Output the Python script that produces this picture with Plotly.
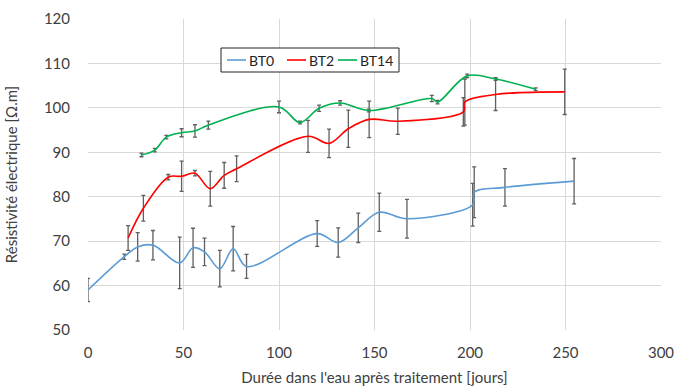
import plotly.graph_objects as go

# ---- data ----
bt0_x = [0, 19, 26, 34, 48, 55, 61, 69, 76, 83, 120, 131, 141.5, 152.5, 167, 201.4, 202.2, 218.3, 254.5]
bt0_y = [59.0, 66.5, 68.7, 69.1, 65.1, 68.5, 67.6, 63.8, 68.3, 64.3, 71.7, 69.7, 73.0, 76.5, 75.05, 78.2, 81.0, 82.1, 83.5]
bt0_err = [2.6, 0.6, 3.2, 3.3, 5.8, 4.4, 3.1, 4.1, 5.0, 2.7, 2.9, 3.3, 3.3, 4.3, 4.35, 4.8, 5.7, 4.2, 5.1]

bt2_x = [21, 29, 42, 49, 56, 64, 71.3, 77.8, 115.2, 126.2, 136.3, 147.2, 162.2, 196.5, 197.3, 213.4, 249.6]
bt2_y = [70.7, 77.4, 84.4, 84.6, 85.3, 81.8, 84.8, 86.3, 93.6, 92.0, 95.3, 97.4, 97.0, 99.1, 101.3, 103.0, 103.6]
bt2_err = [2.8, 2.9, 0.6, 3.4, 0.6, 3.9, 2.9, 2.9, 3.6, 3.2, 4.2, 4.1, 2.95, 3.2, 5.2, 3.6, 5.1]

bt14_x = [28, 35, 41, 49, 56, 63, 100, 111, 121, 132, 147, 180, 183, 198.5, 213.4, 234.4]
bt14_y = [89.4, 90.5, 93.4, 94.4, 94.8, 96.1, 100.2, 96.7, 99.9, 101.1, 99.4, 102.1, 101.3, 107.2, 106.5, 104.2]
bt14_err = [0.4, 0.4, 0.4, 0.9, 1.4, 0.9, 1.3, 0.3, 0.7, 0.5, 0.3, 0.7, 0.4, 0.4, 0.3, 0.3]

x_ticks = [0, 50, 100, 150, 200, 250, 300]
y_ticks = [50, 60, 70, 80, 90, 100, 110, 120]

series_names = ["BT0", "BT2", "BT14"]
series_colors = ["#5B9BD5", "#FF0000", "#00B050"]
series = list(zip(series_names, [bt0_x, bt2_x, bt14_x], [bt0_y, bt2_y, bt14_y],
                  [bt0_err, bt2_err, bt14_err], series_colors))

FONT = "Lato, 'Open Sans', sans-serif"
W, H = 675, 392
ML, MR, MT, MB = 88, 14, 19, 62
PW, PH = W - ML - MR, H - MT - MB


def px(xp):
    return (xp - ML) / PW


def py(yp):
    return (H - MB - yp) / PH


fig = go.Figure()
for name, xs, ys, es, col in series:
    fig.add_trace(go.Scatter(
        x=xs, y=ys, name=name, mode="lines", showlegend=False,
        line=dict(color=col, width=1.6, shape="spline", smoothing=1.0),
        error_y=dict(type="data", array=es, visible=True, color="#5f5f5f",
                     thickness=1.3, width=2),
    ))

# compact Excel-style legend box
shapes = [dict(type="rect", xref="paper", yref="paper",
               x0=px(221), x1=px(399), y0=py(72), y1=py(48),
               line=dict(color="#222222", width=1), fillcolor="white", layer="above")]
annotations = []
entry_x = [227, 287, 338]
for (name, col), ex in zip(zip(series_names, series_colors), entry_x):
    shapes.append(dict(type="line", xref="paper", yref="paper",
                       x0=px(ex), x1=px(ex + 19), y0=py(60), y1=py(60),
                       line=dict(color=col, width=1.6), layer="above"))
    annotations.append(dict(xref="paper", yref="paper", x=px(ex + 20), y=py(60),
                            text=name, showarrow=False, xanchor="left", yanchor="middle",
                            font=dict(family=FONT, size=14, color="#222222")))

fig.update_layout(
    width=W, height=H,
    margin=dict(l=ML, r=MR, t=MT, b=MB),
    paper_bgcolor="white", plot_bgcolor="white",
    font=dict(family=FONT, size=15, color="#404040"),
    showlegend=False,
    shapes=shapes, annotations=annotations,
    xaxis=dict(
        range=[0, 300], tickvals=x_ticks, ticktext=[str(v) for v in x_ticks],
        showgrid=True, gridcolor="#D9D9D9", gridwidth=1,
        zeroline=False, showline=False, ticks="",
        automargin=False, ticklabelstandoff=12,
        tickfont=dict(size=15),
        title=dict(text="Durée dans l'eau après traitement [jours]",
                   font=dict(family=FONT, size=15, color="#404040"), standoff=12),
    ),
    yaxis=dict(
        range=[50, 120], tickvals=y_ticks, ticktext=[str(v) for v in y_ticks],
        showgrid=True, gridcolor="#D9D9D9", gridwidth=1,
        zeroline=False, showline=False, ticks="",
        automargin=False, ticklabelstandoff=17,
        tickfont=dict(size=15),
        title=dict(text="Résistivité électrique [Ω.m]",
                   font=dict(family=FONT, size=15, color="#404040"), standoff=22),
    ),
)

fig.write_html("out.html", config={"displayModeBar": False},
               post_script="document.body.style.margin='0';")
